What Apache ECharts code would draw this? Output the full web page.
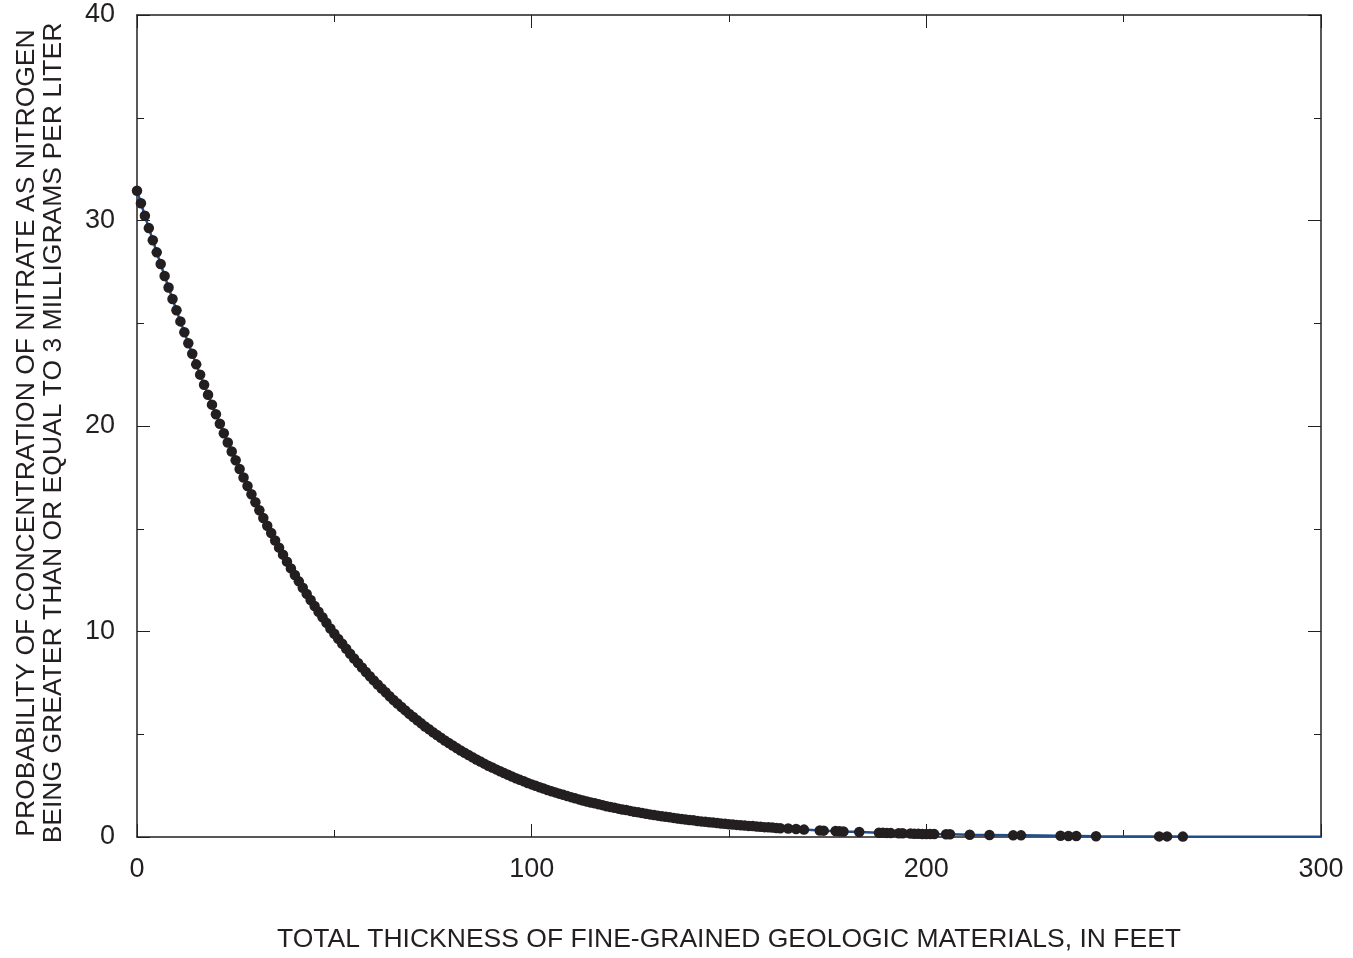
<!DOCTYPE html>
<html>
<head>
<meta charset="utf-8">
<script src="https://cdn.jsdelivr.net/npm/echarts@6/dist/echarts.min.js"></script>
<style>
html, body { margin: 0; padding: 0; background: #fff; }
#container { width: 1353px; height: 958px; }
</style>
</head>
<body>
<div id="container"></div>
<script>
// thickness of fine-grained materials, feet (dots)
var thicknessFt = [
	0,1,2,3,4,5,6,7,8,9,10,11,12,13,14,15,16,17,18,19,
	20,21,22,23,24,25,26,27,28,29,30,31,32,33,34,35,36,37,38,39,
	40,41,42,43,44,45,46,47,48,49,50,51,52,53,54,55,56,57,58,59,
	60,61,62,63,64,65,66,67,68,69,70,71,72,73,74,75,76,77,78,79,
	80,81,82,83,84,85,86,87,88,89,90,91,92,93,94,95,96,97,98,99,
	100,101,102,103,104,105,106,107,108,109,110,111,112,113,114,115,116,117,118,119,
	120,121,122,123,124,125,126,127,128,129,130,131,132,133,134,135,136,137,138,139,
	140,141,142,143,144,145,146,147,148,149,150,151,152,153,154,155,156,157,158,159,
	160,161,162,163,165,167,169,173,174,177,178,179,183,188,189,190,191,193,194,196,
	197,198,199,200,201,202,205,206,211,216,222,224,234,236,238,243,259,261,265
];
// probability, percent
var probabilityPct = [
	31.45,30.84,30.23,29.63,29.04,28.45,27.88,27.30,26.74,26.18,25.63,25.09,24.56,24.03,23.52,23.00,22.50,22.01,21.52,21.04,
	20.57,20.11,19.65,19.20,18.76,18.33,17.91,17.49,17.08,16.68,16.29,15.90,15.52,15.15,14.79,14.43,14.08,13.74,13.40,13.07,
	12.75,12.44,12.13,11.83,11.53,11.24,10.96,10.69,10.42,10.15,9.89,9.64,9.40,9.16,8.92,8.69,8.47,8.25,8.03,7.82,
	7.62,7.42,7.23,7.04,6.85,6.67,6.50,6.33,6.16,5.99,5.84,5.68,5.53,5.38,5.24,5.10,4.96,4.83,4.70,4.57,
	4.45,4.33,4.21,4.10,3.99,3.88,3.77,3.67,3.57,3.47,3.38,3.29,3.20,3.11,3.03,2.94,2.86,2.78,2.71,2.63,
	2.56,2.49,2.42,2.36,2.29,2.23,2.17,2.11,2.05,1.99,1.94,1.88,1.83,1.78,1.73,1.68,1.64,1.59,1.55,1.50,
	1.46,1.42,1.38,1.34,1.31,1.27,1.23,1.20,1.17,1.13,1.10,1.07,1.04,1.01,0.98,0.96,0.93,0.90,0.88,0.85,
	0.83,0.81,0.78,0.76,0.74,0.72,0.70,0.68,0.66,0.64,0.62,0.61,0.59,0.57,0.56,0.54,0.53,0.51,0.50,0.48,
	0.47,0.46,0.44,0.43,0.41,0.39,0.36,0.32,0.31,0.29,0.28,0.27,0.24,0.21,0.21,0.20,0.19,0.18,0.18,0.17,
	0.16,0.16,0.15,0.15,0.15,0.14,0.13,0.13,0.11,0.10,0.08,0.08,0.06,0.05,0.05,0.04,0.03,0.03,0.02
];
// fitted line keeps going past the last dot
var lineTailX = [280, 300];
var lineTailY = [0.015, 0.009];

var xTicks = [0, 100, 200, 300];
var yTicks = [0, 10, 20, 30, 40];

var ink = '#231f20';
var font = '"Liberation Sans", Arial, Helvetica, sans-serif';

var dots = [];
for (var i = 0; i < thicknessFt.length; i++) {
	dots.push([thicknessFt[i], probabilityPct[i]]);
}
var linePts = dots.slice();
for (var j = 0; j < lineTailX.length; j++) {
	linePts.push([lineTailX[j], lineTailY[j]]);
}

function boxAxis(min, max, step, pos, showLabel) {
	return {
		type: 'value',
		min: min,
		max: max,
		interval: step,
		position: pos,
		axisLine: { show: true, onZero: false, lineStyle: { color: ink, width: 1.5 } },
		axisTick: { show: true, inside: true, length: 13, lineStyle: { color: ink, width: 1 } },
		minorTick: { show: true, splitNumber: 2, length: 7, lineStyle: { color: ink, width: 1 } },
		splitLine: { show: false },
		axisLabel: { show: showLabel, color: ink, fontFamily: font, fontSize: 27 }
	};
}

var xMain = boxAxis(xTicks[0], xTicks[xTicks.length - 1], 100, 'bottom', true);
xMain.axisLabel.margin = 19;
xMain.name = 'TOTAL THICKNESS OF FINE-GRAINED GEOLOGIC MATERIALS, IN FEET';
xMain.nameLocation = 'middle';
xMain.nameGap = 89;
xMain.nameTextStyle = { color: ink, fontFamily: font, fontSize: 26.5 };
var xTop = boxAxis(xTicks[0], xTicks[xTicks.length - 1], 100, 'top', false);

var yMain = boxAxis(yTicks[0], yTicks[yTicks.length - 1], 10, 'left', true);
yMain.axisLabel.margin = 22;
yMain.name = 'PROBABILITY OF CONCENTRATION OF NITRATE AS NITROGEN\nBEING GREATER THAN OR EQUAL TO 3 MILLIGRAMS PER LITER';
yMain.nameLocation = 'middle';
yMain.nameGap = 70;
// nudge the rotated title toward the bottom of the axis
yMain.nameTextStyle = { color: ink, fontFamily: font, fontSize: 26.5, lineHeight: 27, padding: [0, 14, 0, 0] };
var yRight = boxAxis(yTicks[0], yTicks[yTicks.length - 1], 10, 'right', false);

var option = {
	animation: false,
	backgroundColor: '#ffffff',
	grid: { left: 137, right: 32, top: 15, bottom: 116, containLabel: false },
	xAxis: [xMain, xTop],
	yAxis: [yMain, yRight],
	series: [
		{
			type: 'line',
			xAxisIndex: 0,
			yAxisIndex: 0,
			data: linePts,
			showSymbol: false,
			symbol: 'none',
			lineStyle: { color: '#1f4e8f', width: 2.5 },
			z: 2
		},
		{
			type: 'scatter',
			xAxisIndex: 0,
			yAxisIndex: 0,
			data: dots,
			symbol: 'circle',
			symbolSize: 10.5,
			clip: false,
			itemStyle: { color: ink, opacity: 1 },
			z: 3
		}
	]
};

var myChart = echarts.init(document.getElementById('container'));
myChart.setOption(option, true);
</script>
</body>
</html>
